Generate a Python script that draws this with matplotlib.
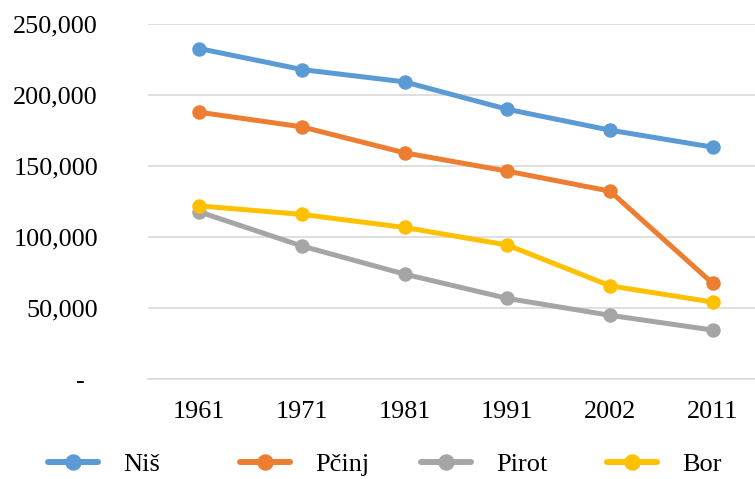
import matplotlib
matplotlib.use("Agg")
import matplotlib.pyplot as plt
from matplotlib.lines import Line2D

years = ["1961", "1971", "1981", "1991", "2002", "2011"]
nis = [232900, 218100, 209400, 190100, 175400, 163400]
pcinj = [188000, 177700, 159400, 146500, 132400, 67400]
pirot = [117800, 93700, 73900, 56800, 44900, 34500]
bor = [122000, 116000, 106800, 94400, 65700, 54200]
series_names = ["Niš", "Pčinj", "Pirot", "Bor"]
colors = ["#5B9BD5", "#ED7D31", "#A5A5A5", "#FFC000"]
y_ticks = [0, 50000, 100000, 150000, 200000, 250000]
y_labels = ["-  ", "50,000", "100,000", "150,000", "200,000", "250,000"]

plt.rcParams['font.family'] = ['Liberation Serif', 'DejaVu Serif']
W, H = 755, 479
fig = plt.figure(figsize=(W / 100, H / 100), dpi=100)
left, right, top, bottom = 148, 764, 24.3, 379
ax = fig.add_axes([left / W, 1 - bottom / H, (right - left) / W, (bottom - top) / H])

x = list(range(len(years)))
for vals, c, name in zip([nis, pcinj, pirot, bor], colors, series_names):
    ax.plot(x, vals, color=c, lw=3.6, marker='o', ms=9.4, label=name,
            solid_capstyle='round', zorder=3)

ax.set_xlim(-0.5, len(years) - 0.5)
ax.set_ylim(0, 250000)
ax.set_yticks(y_ticks)
ax.set_yticklabels(y_labels)
ax.set_xticks(x)
ax.set_xticklabels(years)
ax.tick_params(axis='both', length=0, labelsize=18.8, colors='black')
ax.tick_params(axis='y', pad=36)
ax.tick_params(axis='x', pad=16)
ax.grid(axis='y', color='#D9D9D9', lw=1.2, zorder=0)
for s in ['top', 'right', 'left']:
    ax.spines[s].set_visible(False)
ax.spines['bottom'].set_color('#D9D9D9')
ax.spines['bottom'].set_linewidth(1.2)

starts = [48, 240, 421, 607]
for name, c, sx in zip(series_names, colors, starts):
    h = Line2D([], [], color=c, lw=4.3, marker='o', ms=10.8, solid_capstyle='round')
    fig.legend([h], [name], loc='center left', bbox_to_anchor=(sx / W, 1 - 464 / H),
               frameon=False, prop={'family': 'Liberation Serif', 'size': 19},
               handlelength=1.9, handletextpad=0.95, borderpad=0, borderaxespad=0)

fig.savefig("out.png", dpi=100)
